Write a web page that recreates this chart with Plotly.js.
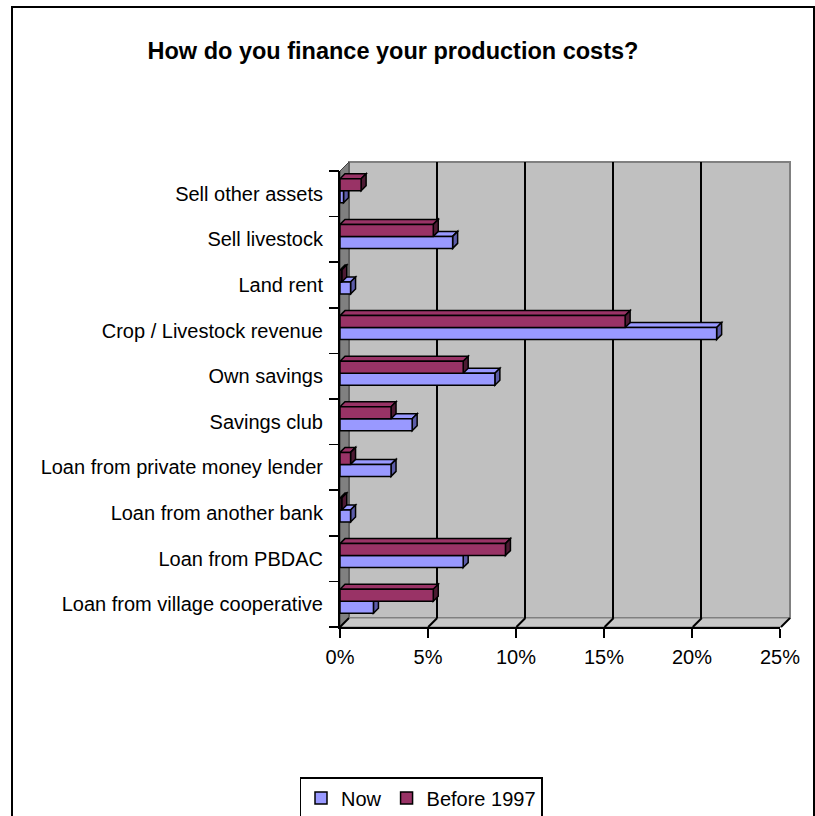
<!DOCTYPE html>
<html>
<head>
<meta charset="utf-8">
<script src="https://cdn.plot.ly/plotly-3.0.1.min.js"></script>
<style>
  html, body { margin:0; padding:0; background:#ffffff; overflow:hidden; }
  #frame { position:absolute; left:11px; top:6px; width:804px; height:840px; box-sizing:border-box; border:2px solid #000; pointer-events:none; z-index:2; }
  #chart { position:absolute; left:0; top:0; width:815px; height:816px; }
</style>
</head>
<body>
<div id="chart"></div>
<div id="frame"></div>
<script>
// ---- data (bottom to top) ----
const categories = [
  "Loan from village cooperative",
  "Loan from PBDAC",
  "Loan from another bank",
  "Loan from private money lender",
  "Savings club",
  "Own savings",
  "Crop / Livestock revenue",
  "Land rent",
  "Sell livestock",
  "Sell other assets"
];
const nowValues    = [1.9, 7.0, 0.6, 2.9, 4.1, 8.8, 21.4, 0.6, 6.4, 0.2];
const beforeValues = [5.3, 9.4, 0.1, 0.6, 2.9, 7.0, 16.2, 0.1, 5.3, 1.2];
const seriesNames = ["Now", "Before 1997"];
const tickValues = [0, 5, 10, 15, 20, 25];
const tickLabels = ["0%", "5%", "10%", "15%", "20%", "25%"];

// ---- geometry / style ----
const FONT = "Liberation Sans, Arial, sans-serif";
const L = 340, R = 790, T = 162, B = 627;       // plot area in px
const W = R - L, H = B - T;
const DEPTH = 9;                               // wall depth in px
const pxPerUnit = (W - DEPTH) / 25;
const px = x => (x - L) / W;
const py = y => (B - y) / H;
const colors = ["#9999ff", "#993366"];
const sideColors = ["#5c5ca8", "#4d1a33"];
const barWidth = 0.263;
const offsets = [-0.197, 0.066];
const dx = 5 / pxPerUnit;       // bar depth in x units
const dy = 5 / ((H - DEPTH) / 10); // bar depth in category units

const idx = categories.map((c, i) => i);
const seriesValues = [nowValues, beforeValues];

const traces = [];
seriesValues.forEach((vals, s) => {
  traces.push({
    type: "bar", orientation: "h", name: seriesNames[s],
    x: vals, y: idx, xaxis: "x2", yaxis: "y2",
    width: barWidth, offset: offsets[s],
    marker: { color: colors[s], line: { color: "#000", width: 1.5 } },
    hoverinfo: "x+name"
  });
});
// dummy traces so the background and tick subplots exist
traces.push({ type: "scatter", x: [], y: [], xaxis: "x", yaxis: "y", showlegend: false, hoverinfo: "skip" });
traces.push({ type: "scatter", x: [], y: [], xaxis: "x2", yaxis: "y3", showlegend: false, hoverinfo: "skip" });

const shapes = [];
// back wall
shapes.push({ type: "rect", xref: "paper", yref: "paper", layer: "below",
  x0: px(L + DEPTH), x1: px(R), y0: py(B - DEPTH), y1: py(T),
  fillcolor: "#c0c0c0", line: { color: "#808080", width: 2 } });
// left wall
shapes.push({ type: "path", xref: "paper", yref: "paper", layer: "below",
  path: `M ${px(L)},${py(B)} L ${px(L)},${py(T + DEPTH)} L ${px(L + DEPTH)},${py(T)} L ${px(L + DEPTH)},${py(B - DEPTH)} Z`,
  fillcolor: "#808080", line: { color: "#404040", width: 1 } });
// floor
shapes.push({ type: "path", xref: "paper", yref: "paper", layer: "below",
  path: `M ${px(L)},${py(B)} L ${px(L + DEPTH)},${py(B - DEPTH)} L ${px(R)},${py(B - DEPTH)} L ${px(R - DEPTH)},${py(B)} Z`,
  fillcolor: "#c8c8c8", line: { color: "#808080", width: 1 } });
// diagonal floor ticks
tickValues.forEach(t => {
  const x = L + t * pxPerUnit;
  shapes.push({ type: "line", xref: "paper", yref: "paper", layer: "below",
    x0: px(x), y0: py(B), x1: px(x + DEPTH), y1: py(B - DEPTH),
    line: { color: "#000", width: 2 } });
});
// 3D faces of bars
seriesValues.forEach((vals, s) => {
  vals.forEach((v, j) => {
    const yb = j + offsets[s], yt = yb + barWidth;
    shapes.push({ type: "path", xref: "x2", yref: "y2", layer: "below",
      path: `M 0,${yt} L ${v},${yt} L ${v + dx},${yt + dy} L ${dx},${yt + dy} Z`,
      fillcolor: colors[s], line: { color: "#000", width: 1.5 } });
    shapes.push({ type: "path", xref: "x2", yref: "y2", layer: "below",
      path: `M ${v},${yb} L ${v + dx},${yb + dy} L ${v + dx},${yt + dy} L ${v},${yt} Z`,
      fillcolor: sideColors[s], line: { color: "#000", width: 1.5 } });
  });
});

const boundaries = [];
for (let i = 0; i <= categories.length; i++) boundaries.push(i - 0.5);

const layout = {
  width: 815, height: 816,
  margin: { l: L, r: 815 - R, t: T, b: 816 - B, pad: 0, autoexpand: false },
  paper_bgcolor: "#ffffff",
  plot_bgcolor: "rgba(0,0,0,0)",
  font: { family: FONT, size: 20, color: "#000" },
  title: { text: "<b>How do you finance your production costs?</b>",
    font: { family: FONT, size: 23.5, color: "#000" },
    xref: "container", yref: "container", x: 393 / 815, xanchor: "center",
    y: 1 - 51 / 816, yanchor: "middle" },
  showlegend: true,
  legend: { orientation: "h", traceorder: "normal",
    xref: "container", yref: "container",
    x: 421 / 815, xanchor: "center", y: 1 - 777 / 816, yanchor: "top",
    bordercolor: "#000", borderwidth: 1.5, bgcolor: "#fff",
    font: { family: FONT, size: 20, color: "#000" }, itemwidth: 30 },
  // back wall axes (gridlines)
  xaxis: { domain: [DEPTH / W, 1 - 1 / W], range: [0, 25], anchor: "y",
    tickvals: [5, 10, 15, 20], showticklabels: false, ticks: "",
    showgrid: true, gridcolor: "#000", gridwidth: 2, zeroline: false, showline: false, fixedrange: true },
  yaxis: { domain: [DEPTH / H, 1], range: [-0.5, 9.5], anchor: "x",
    showgrid: false, showticklabels: false, ticks: "", zeroline: false, showline: false, fixedrange: true },
  // front axes (bars)
  xaxis2: { domain: [0, (W - DEPTH - 1) / W], range: [0, 25], anchor: "y2",
    tickvals: tickValues, ticktext: tickLabels, ticks: "outside", ticklen: 9, tickwidth: 1.5, tickcolor: "#000",
    showline: true, linecolor: "#000", linewidth: 2, showgrid: false, zeroline: false,
    tickfont: { family: FONT, size: 20, color: "#000" }, ticklabelstandoff: 2, fixedrange: true },
  yaxis2: { domain: [0, (H - DEPTH) / H], range: [-0.5, 9.5], anchor: "x2",
    tickvals: idx, ticktext: categories, ticks: "outside", ticklen: 10, tickcolor: "rgba(0,0,0,0)",
    showline: true, linecolor: "#000", linewidth: 2, showgrid: false, zeroline: false,
    tickfont: { family: FONT, size: 20, color: "#000" }, ticklabelstandoff: 1, fixedrange: true },
  yaxis3: { overlaying: "y2", anchor: "x2", side: "left", range: [-0.5, 9.5],
    tickvals: boundaries, ticks: "outside", ticklen: 10, tickwidth: 1.5, tickcolor: "#000",
    showticklabels: false, showgrid: false, zeroline: false, showline: false, fixedrange: true },
  shapes: shapes,
  bargap: 0.47
};

Plotly.newPlot("chart", traces, layout, { displayModeBar: false, staticPlot: true });
</script>
</body>
</html>
